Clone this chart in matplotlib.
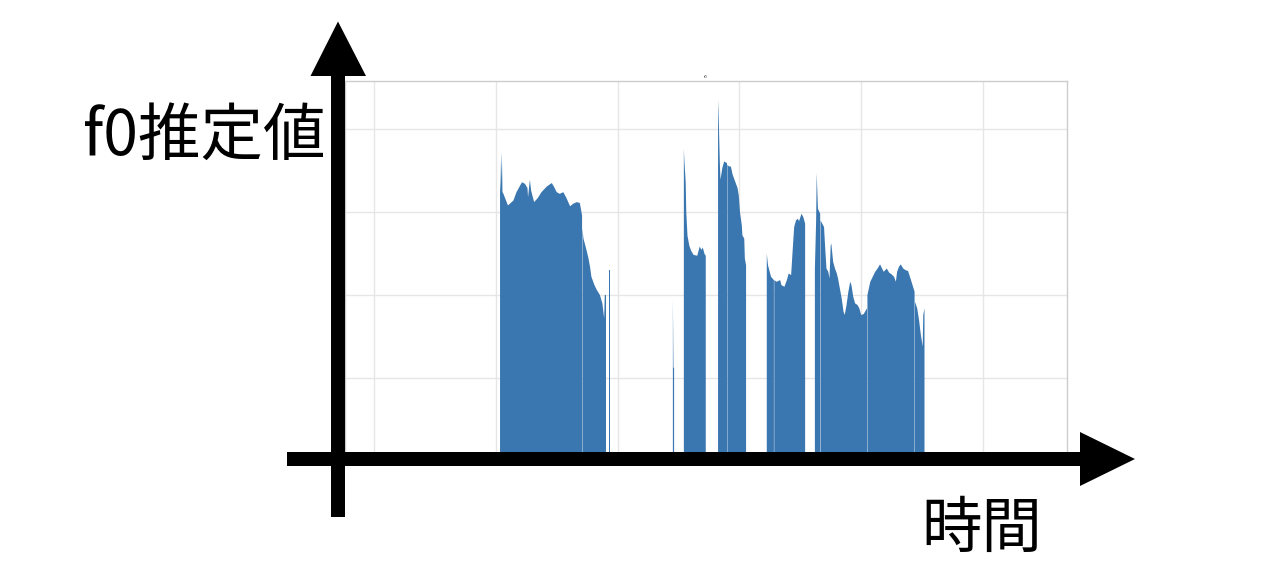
import numpy as np
import matplotlib
matplotlib.use('Agg')
import matplotlib.pyplot as plt
from matplotlib.patches import Polygon

plt.rcParams['font.family'] = ['Noto Sans CJK JP', 'DejaVu Sans']

# f0 contour (frame index, Hz); nan marks an unvoiced frame inside a run
seg1_t = [207, 208, 210, 211, 212, 220, 223, 229, 234, 243,
          248, 252, 253, 256, 258, 263, 269, 275, 284, 292,
          296, 300, 305, 311, 316, 322, 327, 333, 338, 341.7,
          342, 342.3, 344, 348, 352, 355, 357, 362, 366, 371,
          375, 378, 379, 381]
seg1_f0 = [363, 324, 372, 324, 323, 308, 310, 314, 324, 336,
           334, 329, 318, 339, 326, 312, 317, 324, 331, 335,
           330, 324, 322, 324, 317, 307, 310, 312, 311, 296,
           np.nan, 280, 268, 257, 245, 233, 222, 212, 206, 200,
           190, 172, 200, 200]

blip1_t = [386, 387]
blip1_f0 = [230, 230]

blip2_t = [490, 491, 492]
blip2_f0 = [195, 113, 113]

seg3_t = [508, 509, 511, 512, 514, 517, 520, 524, 530, 534, 537, 539, 542, 544]
seg3_f0 = [377, 361, 337, 300, 272, 260, 254, 249, 248, 259, 255, 258, 250, 248]

seg4_t = [565, 566, 568, 569, 572, 575, 579.7, 580, 580.3, 583,
          586, 589, 593, 597, 599, 601, 604, 605, 608, 609, 611]
seg4_f0 = [435, 415, 357, 339, 353, 361, 359, np.nan, 357, 355,
           355, 345, 337, 329, 320, 300, 284, 272, 268, 244, 236]

seg5_t = [645, 647, 652, 656.7, 657, 657.3, 661, 667, 669, 674,
          678, 681, 685, 687, 690, 693, 696, 698, 702, 705, 708]
seg5_f0 = [250, 236, 222, 218, np.nan, 218, 216, 218, 212, 210,
           218, 226, 224, 248, 282, 290, 292, 289, 298, 294, 286]

seg6_t = [724, 726, 727, 729, 732.7, 733, 733.3, 739, 741, 743,
          746, 748, 750, 751, 754, 757, 760, 762, 765, 768,
          771, 773, 776, 779, 782, 784, 787, 790, 794, 797,
          800, 804, 809.7, 810, 810.3, 815, 819, 823, 827, 831,
          833, 837, 842, 846, 850, 854, 857, 859, 862, 865,
          869, 873, 877, 881, 887.7, 888, 888.3, 892, 895, 898,
          901, 902, 904]
seg6_f0 = [232, 288, 347, 304, 298, np.nan, 290, 282, 256, 232,
           228, 220, 260, 262, 240, 232, 226, 220, 208, 196,
           180, 176, 188, 204, 216, 212, 198, 190, 188, 184,
           176, 177, 184, np.nan, 200, 216, 222, 228, 232, 237,
           234, 228, 232, 227, 225, 222, 216, 228, 234, 237,
           232, 230, 229, 220, 204, np.nan, 192, 184, 170, 152,
           138, 176, 184]

x_ticks = [0, 200, 400, 600, 800, 1000]
y_ticks = [0, 100, 200, 300, 400]

segments = [(seg1_t, seg1_f0), (blip1_t, blip1_f0), (blip2_t, blip2_f0),
            (seg3_t, seg3_f0), (seg4_t, seg4_f0), (seg5_t, seg5_f0),
            (seg6_t, seg6_f0)]

W, H = 1266, 580
fig = plt.figure(figsize=(W / 100, H / 100), dpi=100)

# the small f0 plot
ax = fig.add_axes([345 / W, 1 - 461 / H, (1067 - 345) / W, (461 - 81) / H])
for t, f0 in segments:
    ax.fill_between(np.array(t, dtype=float), np.array(f0, dtype=float), 0,
                    color='#3a76af', linewidth=0)
ax.set_xlim(-47.6, 1138)
ax.set_ylim(0, 458)
ax.set_xticks(x_ticks)
ax.set_yticks(y_ticks)
ax.tick_params(labelsize=2, length=0, colors='#999999', pad=1)
ax.grid(True, color='#e6e6e6', linewidth=1)
ax.set_axisbelow(True)
for s in ax.spines.values():
    s.set_color('#cccccc')
    s.set_linewidth(1)
ax.set_title('f0', fontsize=3, pad=2, color='#444444')

# overlay with the big arrows and labels (pixel coordinates)
ov = fig.add_axes([0, 0, 1, 1])
ov.set_xlim(0, W)
ov.set_ylim(H, 0)
ov.axis('off')
ov.patch.set_alpha(0)

v_arrow = [(331, 517), (345, 517), (345, 76), (366, 76), (338, 21.5),
           (310.5, 76), (331, 76)]
h_arrow = [(287, 452), (1080, 452), (1080, 432), (1135, 459),
           (1080, 486), (1080, 466), (287, 466)]
ov.add_patch(Polygon(v_arrow, closed=True, color='black', lw=0))
ov.add_patch(Polygon(h_arrow, closed=True, color='black', lw=0))

ov.text(83, 137, 'f0推定値', fontsize=45, ha='left', va='center')
ov.text(921, 530, '時間', fontsize=43.5, ha='left', va='center')

fig.savefig('out.png', dpi=100)
